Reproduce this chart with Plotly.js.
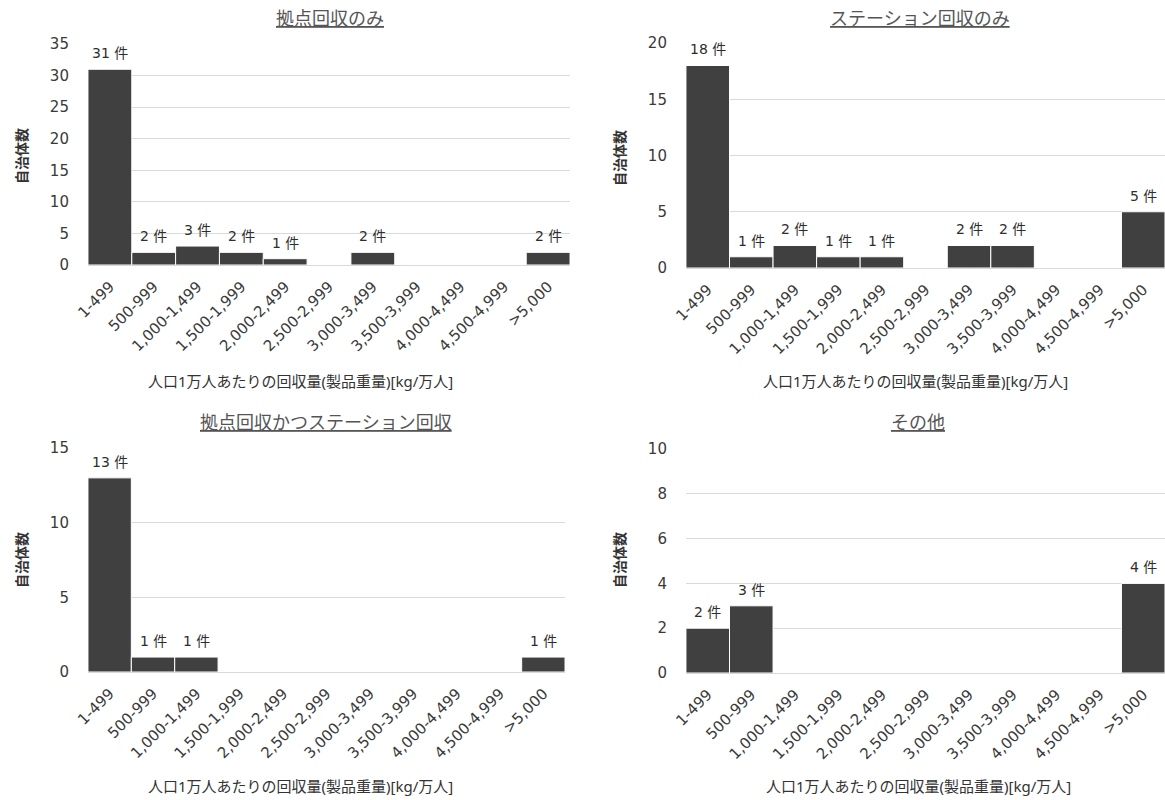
<!DOCTYPE html>
<html>
<head>
<meta charset="utf-8">
<script src="https://cdn.plot.ly/plotly-3.0.1.min.js"></script>
<style>html,body{margin:0;padding:0;background:#fff;}#chart{width:1165px;height:800px;}</style>
</head>
<body>
<div id="chart"></div>
<script>
const categories = ["1-499","500-999","1,000-1,499","1,500-1,999","2,000-2,499","2,500-2,999","3,000-3,499","3,500-3,999","4,000-4,499","4,500-4,999",">5,000"];
const kyotenOnly = [31, 2, 3, 2, 1, 0, 2, 0, 0, 0, 2];
const stationOnly = [18, 1, 2, 1, 1, 0, 2, 2, 0, 0, 5];
const kyotenAndStation = [13, 1, 1, 0, 0, 0, 0, 0, 0, 0, 1];
const others = [2, 3, 0, 0, 0, 0, 0, 0, 0, 0, 4];
const panelTitles = ["拠点回収のみ", "ステーション回収のみ", "拠点回収かつステーション回収", "その他"];
const xTitle = "人口1万人あたりの回収量(製品重量)[kg/万人]";
const yTitle = "自治体数";
const unit = "件";
const yMax = [35, 20, 15, 10];
const yStep = [5, 5, 5, 2];

const FONT = "'Noto Sans', 'Noto Sans CJK JP', sans-serif";
const TICKFONT = "'DejaVu Sans', 'Noto Sans CJK JP', sans-serif";
const series = [kyotenOnly, stationOnly, kyotenAndStation, others];
const traces = series.map((vals, i) => {
  const n = i === 0 ? "" : String(i + 1);
  return {
    type: "bar",
    x: categories,
    y: vals,
    xaxis: "x" + n,
    yaxis: "y" + n,
    marker: {color: "#404040", line: {color: "#ffffff", width: 1}},
    hoverinfo: "x+y",
    showlegend: false
  };
});

const xDomains = [[0.0755, 0.4893], [0.5888, 1.0], [0.0755, 0.485], [0.5888, 1.0]];
const yDomains = [[0.66875, 0.945], [0.665, 0.94625], [0.16, 0.44], [0.15875, 0.43875]];

const layout = {
  width: 1165, height: 800,
  margin: {l: 0, r: 0, t: 0, b: 0},
  paper_bgcolor: "#ffffff",
  plot_bgcolor: "#ffffff",
  bargap: 0,
  font: {family: FONT, size: 12, color: "#404040"},
  annotations: []
};

for (let i = 0; i < 4; i++) {
  const n = i === 0 ? "" : String(i + 1);
  layout["xaxis" + n] = {
    domain: xDomains[i],
    anchor: "y" + n,
    type: "category",
    tickangle: -45,
    showgrid: false,
    showline: false,
    ticks: "outside",
    ticklen: 6,
    tickcolor: "rgba(0,0,0,0)",
    tickfont: {family: TICKFONT, size: 15, color: "#3a3a3a"},
    fixedrange: true
  };
  layout["yaxis" + n] = {
    domain: yDomains[i],
    anchor: "x" + n,
    range: [0, yMax[i]],
    dtick: yStep[i],
    tick0: 0,
    showgrid: true,
    gridcolor: "#d9d9d9",
    gridwidth: 1,
    zeroline: true,
    zerolinecolor: "#d9d9d9",
    zerolinewidth: 1,
    showline: false,
    ticks: "outside",
    ticklen: 15,
    tickcolor: "rgba(0,0,0,0)",
    tickfont: {family: TICKFONT, size: 15, color: "#3a3a3a"},
    fixedrange: true
  };
  // value labels above bars, placed through the data axes
  series[i].forEach((v, k) => {
    if (v > 0) {
      layout.annotations.push({
        text: v + " " + unit,
        xref: "x" + n, yref: "y" + n,
        x: categories[k], y: v,
        xanchor: "center", yanchor: "bottom", yshift: 6,
        showarrow: false,
        font: {family: TICKFONT, size: 14, color: "#2e2e2e"}
      });
    }
  });
}

const titlePos = [[330, 18], [920, 18], [326, 422], [918, 422]];
const xTitlePos = [[300, 381], [915, 381], [300, 786], [918, 786]];
const yTitlePos = [[21, 156], [619, 158], [21, 560], [619, 560]];
for (let i = 0; i < 4; i++) {
  layout.annotations.push({
    text: "<span style=\"text-decoration:underline\">" + panelTitles[i] + "</span>",
    xref: "paper", yref: "paper",
    x: titlePos[i][0] / 1165, y: 1 - titlePos[i][1] / 800,
    xanchor: "center", yanchor: "middle", showarrow: false,
    font: {family: FONT, size: 18, color: "#555555"}
  });
  layout.annotations.push({
    text: xTitle,
    xref: "paper", yref: "paper",
    x: xTitlePos[i][0] / 1165, y: 1 - xTitlePos[i][1] / 800,
    xanchor: "center", yanchor: "middle", showarrow: false,
    font: {family: FONT, size: 15, color: "#333333"}
  });
  layout.annotations.push({
    text: "<b>" + yTitle + "</b>",
    xref: "paper", yref: "paper",
    x: yTitlePos[i][0] / 1165, y: 1 - yTitlePos[i][1] / 800,
    xanchor: "center", yanchor: "middle", showarrow: false, textangle: -90,
    font: {family: FONT, size: 14, color: "#333333"}
  });
}

Plotly.newPlot("chart", traces, layout, {displayModeBar: false, staticPlot: true});
</script>
</body>
</html>
